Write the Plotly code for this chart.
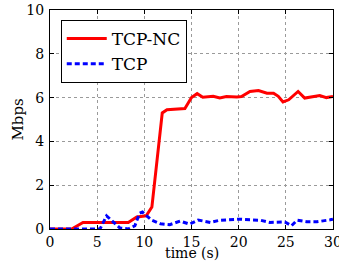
import plotly.graph_objects as go

tcpnc_time = [0, 2.3, 3.5, 8.3, 9.2, 10.2, 10.8, 11.9, 12.4, 14.3, 15.0, 15.6, 16.2, 17.3, 18.0,
              18.7, 19.8, 20.3, 21.2, 22.1, 23.0, 23.7, 24.2, 24.7, 25.3, 26.3, 27.0, 27.7,
              28.6, 29.3, 30]
tcpnc_mbps = [0, 0, 0.3, 0.3, 0.55, 0.6, 1.0, 5.3, 5.45, 5.5, 6.0, 6.18, 6.02, 6.06, 5.98,
              6.05, 6.03, 6.05, 6.28, 6.32, 6.2, 6.2, 6.06, 5.8, 5.9, 6.28, 5.98, 6.03,
              6.09, 6.0, 6.05]

tcp_time = [0, 5.3, 6.0, 6.7, 7.4, 8.3, 9.0, 9.5, 9.8, 10.2, 10.8, 11.7, 12.7, 13.8, 14.8,
            15.7, 17.0, 18.0, 19.1, 20.1, 21.2, 22.3, 23.3, 24.2, 24.9, 25.6, 26.2, 27.2,
            28.3, 29.7, 30]
tcp_mbps = [0, 0, 0.6, 0.34, 0.05, 0.0, 0.15, 0.72, 0.78, 0.62, 0.4, 0.24, 0.2, 0.36, 0.22,
            0.41, 0.3, 0.4, 0.42, 0.45, 0.42, 0.4, 0.3, 0.33, 0.32, 0.15, 0.4, 0.33,
            0.33, 0.42, 0.45]

x_ticks = [0, 5, 10, 15, 20, 25, 30]
y_ticks = [0, 2, 4, 6, 8, 10]

FONT = "DejaVu Serif"

fig = go.Figure()
fig.add_trace(go.Scatter(x=tcpnc_time, y=tcpnc_mbps, mode="lines", name="TCP-NC",
                         line=dict(color="#ff0000", width=3)))
fig.add_trace(go.Scatter(x=tcp_time, y=tcp_mbps, mode="lines", name="TCP",
                         line=dict(color="#0000ff", width=3, dash="5px,3px")))

axis_common = dict(
    showline=True, linecolor="black", linewidth=1, mirror="ticks",
    ticks="inside", ticklen=4, tickcolor="black",
    showgrid=True, gridcolor="#9a9a9a", griddash="dot", gridwidth=1,
    zeroline=False, automargin=False, ticklabeloverflow="allow",
    tickfont=dict(family=FONT, size=14, color="black"),
)

fig.update_layout(
    width=339, height=261,
    margin=dict(l=50, r=6, t=10, b=32),
    paper_bgcolor="white", plot_bgcolor="white",
    font=dict(family=FONT, color="black"),
    xaxis=dict(range=[0, 30], tickvals=x_ticks, ticklabelstandoff=0, **axis_common),
    yaxis=dict(range=[0, 10], tickvals=y_ticks, ticklabelstandoff=2, **axis_common),
    legend=dict(x=0.038, y=0.954, xanchor="left", yanchor="top", itemwidth=40,
                tracegroupgap=0,
                bgcolor="white", bordercolor="black", borderwidth=1,
                font=dict(family=FONT, size=17, color="black")),
    showlegend=True,
    annotations=[
        dict(text="time (s)", xref="paper", yref="paper", x=0.5, y=0, yshift=-24,
             xanchor="center", yanchor="middle", showarrow=False,
             font=dict(family=FONT, size=14, color="black")),
        dict(text="Mbps", xref="paper", yref="paper", x=0, y=0.5, xshift=-33,
             xanchor="center", yanchor="middle", textangle=-90, showarrow=False,
             font=dict(family=FONT, size=15, color="black")),
    ],
)

fig.write_html("out.html", config={"displayModeBar": False},
               post_script="document.body.style.margin='0';document.body.style.padding='0';")
